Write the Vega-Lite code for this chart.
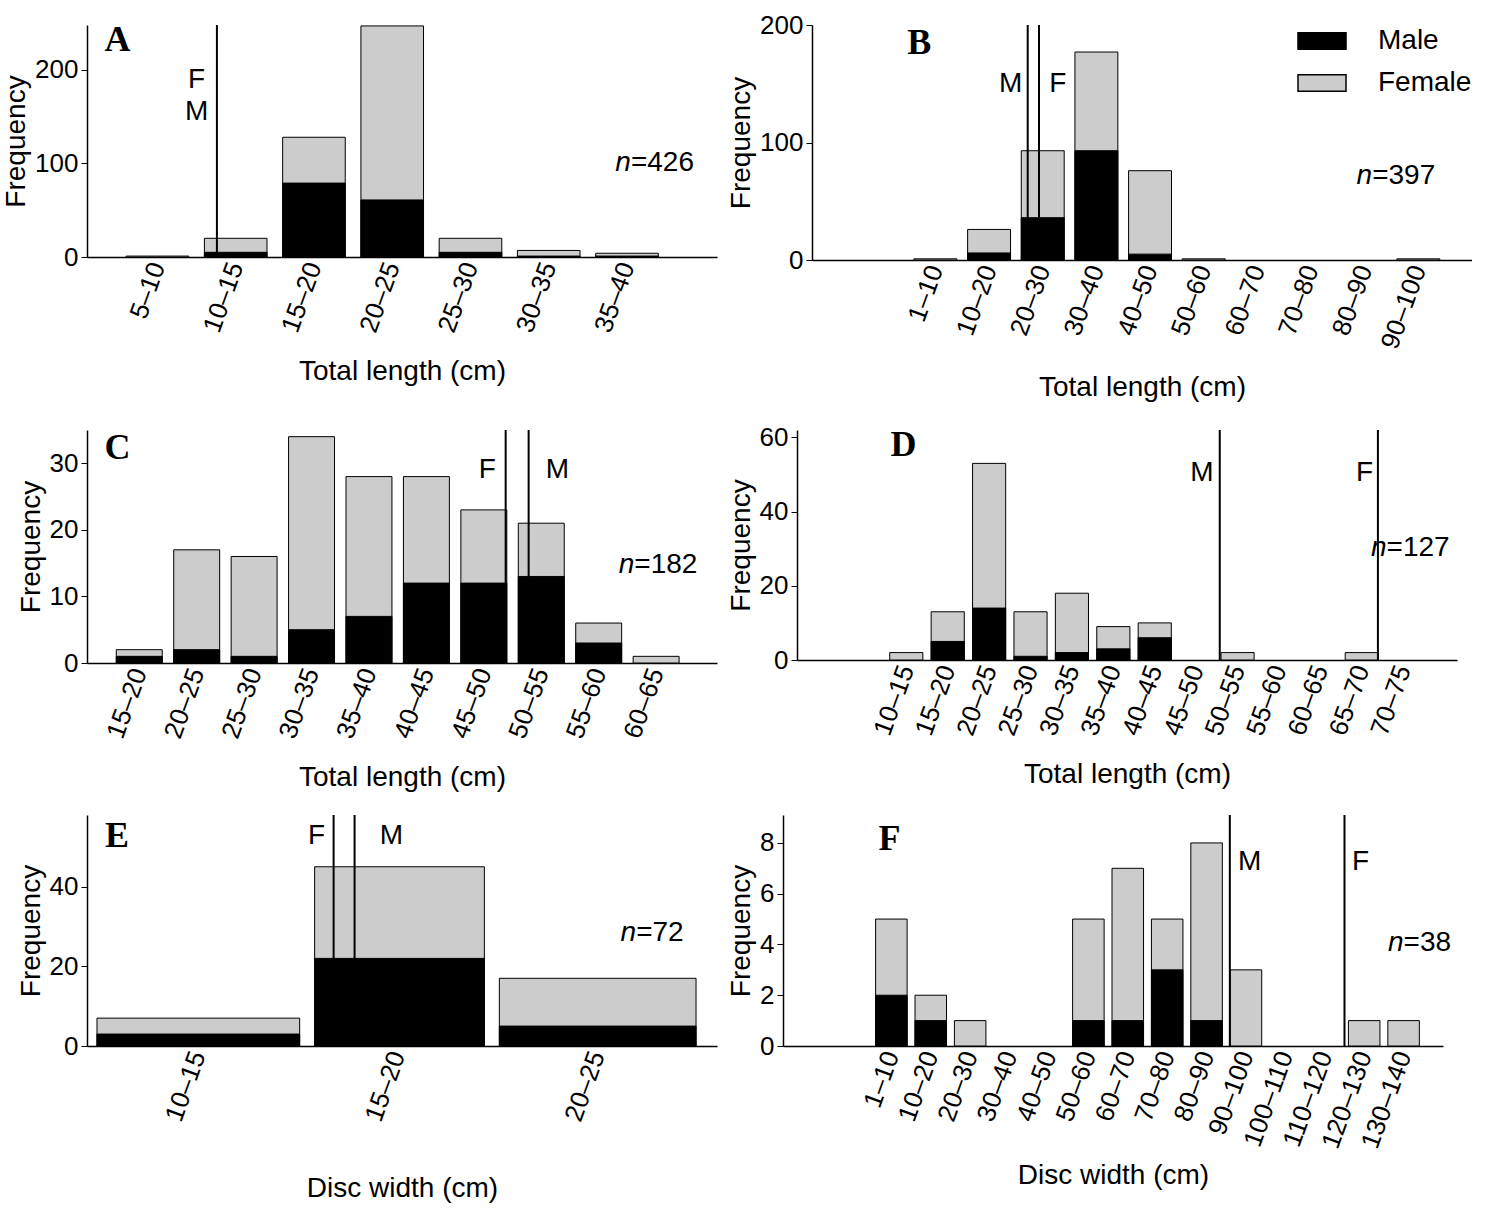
{
  "$schema": "https://vega.github.io/schema/vega-lite/v6.json",
  "padding": {"top": 12, "left": 2, "right": 0, "bottom": 0},
  "background": "white",
  "config": {
    "font": "Liberation Sans",
    "view": {"stroke": null},
    "axis": {"grid": false, "domainColor": "black", "domainWidth": 1.5, "tickColor": "black", "labelColor": "black", "titleColor": "black", "labelFontSize": 26, "titleFontSize": 28, "titleFontWeight": "normal", "labelFont": "Liberation Sans", "titleFont": "Liberation Sans", "labelFlush": false, "labelOverlap": false},
    "axisX": {"ticks": false, "labelAngle": -70, "labelAlign": "right", "labelBaseline": "middle", "labelPadding": 6, "titlePadding": 22},
    "axisY": {"tickSize": 6, "titlePadding": 4, "labelPadding": 3},
    "concat": {"spacing": 10}
  },
  "datasets": {
    "bars": [
      {"p": "A", "lo": 0.6, "hi": 1.4, "total": 1, "male": 0},
      {"p": "A", "lo": 1.6, "hi": 2.4, "total": 20, "male": 5},
      {"p": "A", "lo": 2.6, "hi": 3.4, "total": 128, "male": 79},
      {"p": "A", "lo": 3.6, "hi": 4.4, "total": 247, "male": 61},
      {"p": "A", "lo": 4.6, "hi": 5.4, "total": 20, "male": 5},
      {"p": "A", "lo": 5.6, "hi": 6.4, "total": 7, "male": 1},
      {"p": "A", "lo": 6.6, "hi": 7.4, "total": 4, "male": 1},
      {"p": "B", "lo": 0.6, "hi": 1.4, "total": 1, "male": 0},
      {"p": "B", "lo": 1.6, "hi": 2.4, "total": 26, "male": 6},
      {"p": "B", "lo": 2.6, "hi": 3.4, "total": 93, "male": 36},
      {"p": "B", "lo": 3.6, "hi": 4.4, "total": 177, "male": 93},
      {"p": "B", "lo": 4.6, "hi": 5.4, "total": 76, "male": 5},
      {"p": "B", "lo": 5.6, "hi": 6.4, "total": 1, "male": 0},
      {"p": "B", "lo": 9.6, "hi": 10.4, "total": 1, "male": 0},
      {"p": "C", "lo": 0.6, "hi": 1.4, "total": 2, "male": 1},
      {"p": "C", "lo": 1.6, "hi": 2.4, "total": 17, "male": 2},
      {"p": "C", "lo": 2.6, "hi": 3.4, "total": 16, "male": 1},
      {"p": "C", "lo": 3.6, "hi": 4.4, "total": 34, "male": 5},
      {"p": "C", "lo": 4.6, "hi": 5.4, "total": 28, "male": 7},
      {"p": "C", "lo": 5.6, "hi": 6.4, "total": 28, "male": 12},
      {"p": "C", "lo": 6.6, "hi": 7.4, "total": 23, "male": 12},
      {"p": "C", "lo": 7.6, "hi": 8.4, "total": 21, "male": 13},
      {"p": "C", "lo": 8.6, "hi": 9.4, "total": 6, "male": 3},
      {"p": "C", "lo": 9.6, "hi": 10.4, "total": 1, "male": 0},
      {"p": "D", "lo": 0.6, "hi": 1.4, "total": 2, "male": 0},
      {"p": "D", "lo": 1.6, "hi": 2.4, "total": 13, "male": 5},
      {"p": "D", "lo": 2.6, "hi": 3.4, "total": 53, "male": 14},
      {"p": "D", "lo": 3.6, "hi": 4.4, "total": 13, "male": 1},
      {"p": "D", "lo": 4.6, "hi": 5.4, "total": 18, "male": 2},
      {"p": "D", "lo": 5.6, "hi": 6.4, "total": 9, "male": 3},
      {"p": "D", "lo": 6.6, "hi": 7.4, "total": 10, "male": 6},
      {"p": "D", "lo": 8.6, "hi": 9.4, "total": 2, "male": 0},
      {"p": "D", "lo": 11.6, "hi": 12.4, "total": 2, "male": 0},
      {"p": "E", "lo": 0.495, "hi": 1.51, "total": 7, "male": 3},
      {"p": "E", "lo": 1.585, "hi": 2.435, "total": 45, "male": 22},
      {"p": "E", "lo": 2.51, "hi": 3.495, "total": 17, "male": 5},
      {"p": "F", "lo": 0.6, "hi": 1.4, "total": 5, "male": 2},
      {"p": "F", "lo": 1.6, "hi": 2.4, "total": 2, "male": 1},
      {"p": "F", "lo": 2.6, "hi": 3.4, "total": 1, "male": 0},
      {"p": "F", "lo": 5.6, "hi": 6.4, "total": 5, "male": 1},
      {"p": "F", "lo": 6.6, "hi": 7.4, "total": 7, "male": 1},
      {"p": "F", "lo": 7.6, "hi": 8.4, "total": 5, "male": 3},
      {"p": "F", "lo": 8.6, "hi": 9.4, "total": 8, "male": 1},
      {"p": "F", "lo": 9.6, "hi": 10.4, "total": 3, "male": 0},
      {"p": "F", "lo": 12.6, "hi": 13.4, "total": 1, "male": 0},
      {"p": "F", "lo": 13.6, "hi": 14.4, "total": 1, "male": 0}
    ],
    "lines": [
      {"p": "A", "x": 1.76},
      {"p": "B", "x": 2.72}, {"p": "B", "x": 2.93},
      {"p": "C", "x": 7.38}, {"p": "C", "x": 7.78},
      {"p": "D", "x": 8.57}, {"p": "D", "x": 12.39},
      {"p": "E", "x": 1.68}, {"p": "E", "x": 1.785},
      {"p": "F", "x": 9.59}, {"p": "F", "x": 12.5}
    ],
    "notes": [
      {"p": "A", "t": "F", "x": 1.5, "y": 189}, {"p": "A", "t": "M", "x": 1.5, "y": 155},
      {"p": "B", "t": "M", "x": 2.4, "y": 150}, {"p": "B", "t": "F", "x": 3.28, "y": 150},
      {"p": "C", "t": "F", "x": 7.06, "y": 29}, {"p": "C", "t": "M", "x": 8.28, "y": 29},
      {"p": "D", "t": "M", "x": 8.14, "y": 50.4}, {"p": "D", "t": "F", "x": 12.07, "y": 50.4},
      {"p": "E", "t": "F", "x": 1.595, "y": 52.8}, {"p": "E", "t": "M", "x": 1.97, "y": 52.8},
      {"p": "F", "t": "M", "x": 10.09, "y": 7.24}, {"p": "F", "t": "F", "x": 12.91, "y": 7.24}
    ],
    "tags": [
      {"p": "A", "letter": "A", "lx": 0.49, "ly": 232, "nx": 7.05, "ny": 100, "n": "=426"},
      {"p": "B", "letter": "B", "lx": 0.7, "ly": 185, "nx": 9.14, "ny": 71.5, "n": "=397"},
      {"p": "C", "letter": "C", "lx": 0.62, "ly": 32.3, "nx": 9.62, "ny": 14.7, "n": "=182"},
      {"p": "D", "letter": "D", "lx": 0.93, "ly": 58, "nx": 12.6, "ny": 30.2, "n": "=127"},
      {"p": "E", "letter": "E", "lx": 0.595, "ly": 52.8, "nx": 3.195, "ny": 28.4, "n": "=72"},
      {"p": "F", "letter": "F", "lx": 0.95, "ly": 8.15, "nx": 14.0, "ny": 4.05, "n": "=38"}
    ]
  },
  "resolve": {"scale": {"color": "independent"}, "legend": {"color": "independent"}},
  "spacing": 22,
  "vconcat": [
    {
      "resolve": {"scale": {"color": "independent"}, "legend": {"color": "independent"}},
      "hconcat": [
        {
          "width": 630, "height": 232,
          "layer": [
            {"data": {"name": "bars"}, "transform": [{"filter": "datum.p == 'A'"}],
             "mark": {"type": "bar", "stroke": "black", "strokeWidth": 1},
             "encoding": {
               "x": {"field": "lo", "type": "quantitative", "scale": {"domain": [0.1, 8.15], "nice": false, "zero": false},
                     "axis": {"title": "Total length (cm)", "values": [1, 2, 3, 4, 5, 6, 7], "labelExpr": "['5–10','10–15','15–20','20–25','25–30','30–35','35–40'][datum.value - 1]"}},
               "x2": {"field": "hi"},
               "y": {"field": "total", "type": "quantitative", "scale": {"domain": [0, 248], "nice": false}, "axis": {"title": "Frequency", "values": [0, 100, 200]}},
               "y2": {"datum": 0},
               "color": {"datum": "Female", "scale": {"domain": ["Male", "Female"], "range": ["black", "#cccccc"]}, "legend": null}
             }},
            {"data": {"name": "bars"}, "transform": [{"filter": "datum.p == 'A' && datum.male > 0"}],
             "mark": {"type": "bar", "stroke": "black", "strokeWidth": 1},
             "encoding": {"x": {"field": "lo", "type": "quantitative"}, "x2": {"field": "hi"}, "y": {"field": "male", "type": "quantitative"}, "y2": {"datum": 0},
               "color": {"datum": "Male", "scale": {"domain": ["Male", "Female"], "range": ["black", "#cccccc"]}, "legend": null}}},
            {"data": {"name": "lines"}, "transform": [{"filter": "datum.p == 'A'"}], "mark": {"type": "rule", "color": "black", "strokeWidth": 2},
             "encoding": {"x": {"field": "x", "type": "quantitative"}}},
            {"data": {"name": "notes"}, "transform": [{"filter": "datum.p == 'A'"}], "mark": {"type": "text", "fontSize": 28, "color": "black"},
             "encoding": {"x": {"field": "x", "type": "quantitative"}, "y": {"field": "y", "type": "quantitative"}, "text": {"field": "t"}}},
            {"data": {"name": "tags"}, "transform": [{"filter": "datum.p == 'A'"}], "mark": {"type": "text", "fontSize": 36, "font": "Liberation Serif", "fontWeight": "bold", "color": "black"},
             "encoding": {"x": {"field": "lx", "type": "quantitative"}, "y": {"field": "ly", "type": "quantitative"}, "text": {"field": "letter"}}},
            {"data": {"name": "tags"}, "transform": [{"filter": "datum.p == 'A'"}], "mark": {"type": "text", "fontSize": 28, "fontStyle": "italic", "align": "right", "color": "black"},
             "encoding": {"x": {"field": "nx", "type": "quantitative"}, "y": {"field": "ny", "type": "quantitative"}, "text": {"value": "n"}}},
            {"data": {"name": "tags"}, "transform": [{"filter": "datum.p == 'A'"}], "mark": {"type": "text", "fontSize": 28, "align": "left", "color": "black"},
             "encoding": {"x": {"field": "nx", "type": "quantitative"}, "y": {"field": "ny", "type": "quantitative"}, "text": {"field": "n"}}}
          ]
        },
        {
          "width": 660, "height": 235,
          "layer": [
            {"data": {"name": "bars"}, "transform": [{"filter": "datum.p == 'B'"}],
             "mark": {"type": "bar", "stroke": "black", "strokeWidth": 1},
             "encoding": {
               "x": {"field": "lo", "type": "quantitative", "scale": {"domain": [-1.3, 11], "nice": false, "zero": false},
                     "axis": {"title": "Total length (cm)", "values": [1, 2, 3, 4, 5, 6, 7, 8, 9, 10], "labelExpr": "['1–10','10–20','20–30','30–40','40–50','50–60','60–70','70–80','80–90','90–100'][datum.value - 1]"}},
               "x2": {"field": "hi"},
               "y": {"field": "total", "type": "quantitative", "scale": {"domain": [0, 200], "nice": false}, "axis": {"title": "Frequency", "values": [0, 100, 200]}},
               "y2": {"datum": 0},
               "color": {"datum": "Female", "scale": {"domain": ["Male", "Female"], "range": ["black", "#cccccc"]},
                         "legend": {"title": null, "orient": "top-right", "offset": 0, "padding": 0, "labelFontSize": 28, "labelColor": "black", "symbolType": "M-1.6,-0.55H1.6V0.55H-1.6Z", "symbolSize": 900, "symbolStrokeColor": "black", "symbolStrokeWidth": 1.5, "symbolOpacity": 1, "rowPadding": 12, "labelOffset": 40}}
             }},
            {"data": {"name": "bars"}, "transform": [{"filter": "datum.p == 'B' && datum.male > 0"}],
             "mark": {"type": "bar", "stroke": "black", "strokeWidth": 1},
             "encoding": {"x": {"field": "lo", "type": "quantitative"}, "x2": {"field": "hi"}, "y": {"field": "male", "type": "quantitative"}, "y2": {"datum": 0},
               "color": {"datum": "Male", "scale": {"domain": ["Male", "Female"], "range": ["black", "#cccccc"]}}}},
            {"data": {"name": "lines"}, "transform": [{"filter": "datum.p == 'B'"}], "mark": {"type": "rule", "color": "black", "strokeWidth": 2},
             "encoding": {"x": {"field": "x", "type": "quantitative"}}},
            {"data": {"name": "notes"}, "transform": [{"filter": "datum.p == 'B'"}], "mark": {"type": "text", "fontSize": 28, "color": "black"},
             "encoding": {"x": {"field": "x", "type": "quantitative"}, "y": {"field": "y", "type": "quantitative"}, "text": {"field": "t"}}},
            {"data": {"name": "tags"}, "transform": [{"filter": "datum.p == 'B'"}], "mark": {"type": "text", "fontSize": 36, "font": "Liberation Serif", "fontWeight": "bold", "color": "black"},
             "encoding": {"x": {"field": "lx", "type": "quantitative"}, "y": {"field": "ly", "type": "quantitative"}, "text": {"field": "letter"}}},
            {"data": {"name": "tags"}, "transform": [{"filter": "datum.p == 'B'"}], "mark": {"type": "text", "fontSize": 28, "fontStyle": "italic", "align": "right", "color": "black"},
             "encoding": {"x": {"field": "nx", "type": "quantitative"}, "y": {"field": "ny", "type": "quantitative"}, "text": {"value": "n"}}},
            {"data": {"name": "tags"}, "transform": [{"filter": "datum.p == 'B'"}], "mark": {"type": "text", "fontSize": 28, "align": "left", "color": "black"},
             "encoding": {"x": {"field": "nx", "type": "quantitative"}, "y": {"field": "ny", "type": "quantitative"}, "text": {"field": "n"}}}
          ]
        }
      ]
    },
    {
      "resolve": {"scale": {"color": "independent"}, "legend": {"color": "independent"}},
      "hconcat": [
        {
          "width": 630, "height": 233,
          "layer": [
            {"data": {"name": "bars"}, "transform": [{"filter": "datum.p == 'C'"}],
             "mark": {"type": "bar", "stroke": "black", "strokeWidth": 1},
             "encoding": {
               "x": {"field": "lo", "type": "quantitative", "scale": {"domain": [0.09, 11.06], "nice": false, "zero": false},
                     "axis": {"title": "Total length (cm)", "values": [1, 2, 3, 4, 5, 6, 7, 8, 9, 10], "labelExpr": "['15–20','20–25','25–30','30–35','35–40','40–45','45–50','50–55','55–60','60–65'][datum.value - 1]"}},
               "x2": {"field": "hi"},
               "y": {"field": "total", "type": "quantitative", "scale": {"domain": [0, 35], "nice": false}, "axis": {"title": "Frequency", "values": [0, 10, 20, 30]}},
               "y2": {"datum": 0},
               "color": {"datum": "Female", "scale": {"domain": ["Male", "Female"], "range": ["black", "#cccccc"]}, "legend": null}
             }},
            {"data": {"name": "bars"}, "transform": [{"filter": "datum.p == 'C' && datum.male > 0"}],
             "mark": {"type": "bar", "stroke": "black", "strokeWidth": 1},
             "encoding": {"x": {"field": "lo", "type": "quantitative"}, "x2": {"field": "hi"}, "y": {"field": "male", "type": "quantitative"}, "y2": {"datum": 0},
               "color": {"datum": "Male", "scale": {"domain": ["Male", "Female"], "range": ["black", "#cccccc"]}, "legend": null}}},
            {"data": {"name": "lines"}, "transform": [{"filter": "datum.p == 'C'"}], "mark": {"type": "rule", "color": "black", "strokeWidth": 2},
             "encoding": {"x": {"field": "x", "type": "quantitative"}}},
            {"data": {"name": "notes"}, "transform": [{"filter": "datum.p == 'C'"}], "mark": {"type": "text", "fontSize": 28, "color": "black"},
             "encoding": {"x": {"field": "x", "type": "quantitative"}, "y": {"field": "y", "type": "quantitative"}, "text": {"field": "t"}}},
            {"data": {"name": "tags"}, "transform": [{"filter": "datum.p == 'C'"}], "mark": {"type": "text", "fontSize": 36, "font": "Liberation Serif", "fontWeight": "bold", "color": "black"},
             "encoding": {"x": {"field": "lx", "type": "quantitative"}, "y": {"field": "ly", "type": "quantitative"}, "text": {"field": "letter"}}},
            {"data": {"name": "tags"}, "transform": [{"filter": "datum.p == 'C'"}], "mark": {"type": "text", "fontSize": 28, "fontStyle": "italic", "align": "right", "color": "black"},
             "encoding": {"x": {"field": "nx", "type": "quantitative"}, "y": {"field": "ny", "type": "quantitative"}, "text": {"value": "n"}}},
            {"data": {"name": "tags"}, "transform": [{"filter": "datum.p == 'C'"}], "mark": {"type": "text", "fontSize": 28, "align": "left", "color": "black"},
             "encoding": {"x": {"field": "nx", "type": "quantitative"}, "y": {"field": "ny", "type": "quantitative"}, "text": {"field": "n"}}}
          ]
        },
        {
          "width": 660, "height": 230,
          "layer": [
            {"data": {"name": "bars"}, "transform": [{"filter": "datum.p == 'D'"}],
             "mark": {"type": "bar", "stroke": "black", "strokeWidth": 1},
             "encoding": {
               "x": {"field": "lo", "type": "quantitative", "scale": {"domain": [-1.64, 14.3], "nice": false, "zero": false},
                     "axis": {"title": "Total length (cm)", "values": [1, 2, 3, 4, 5, 6, 7, 8, 9, 10, 11, 12, 13], "labelExpr": "['10–15','15–20','20–25','25–30','30–35','35–40','40–45','45–50','50–55','55–60','60–65','65–70','70–75'][datum.value - 1]"}},
               "x2": {"field": "hi"},
               "y": {"field": "total", "type": "quantitative", "scale": {"domain": [0, 62], "nice": false}, "axis": {"title": "Frequency", "values": [0, 20, 40, 60]}},
               "y2": {"datum": 0},
               "color": {"datum": "Female", "scale": {"domain": ["Male", "Female"], "range": ["black", "#cccccc"]}, "legend": null}
             }},
            {"data": {"name": "bars"}, "transform": [{"filter": "datum.p == 'D' && datum.male > 0"}],
             "mark": {"type": "bar", "stroke": "black", "strokeWidth": 1},
             "encoding": {"x": {"field": "lo", "type": "quantitative"}, "x2": {"field": "hi"}, "y": {"field": "male", "type": "quantitative"}, "y2": {"datum": 0},
               "color": {"datum": "Male", "scale": {"domain": ["Male", "Female"], "range": ["black", "#cccccc"]}, "legend": null}}},
            {"data": {"name": "lines"}, "transform": [{"filter": "datum.p == 'D'"}], "mark": {"type": "rule", "color": "black", "strokeWidth": 2},
             "encoding": {"x": {"field": "x", "type": "quantitative"}}},
            {"data": {"name": "notes"}, "transform": [{"filter": "datum.p == 'D'"}], "mark": {"type": "text", "fontSize": 28, "color": "black"},
             "encoding": {"x": {"field": "x", "type": "quantitative"}, "y": {"field": "y", "type": "quantitative"}, "text": {"field": "t"}}},
            {"data": {"name": "tags"}, "transform": [{"filter": "datum.p == 'D'"}], "mark": {"type": "text", "fontSize": 36, "font": "Liberation Serif", "fontWeight": "bold", "color": "black"},
             "encoding": {"x": {"field": "lx", "type": "quantitative"}, "y": {"field": "ly", "type": "quantitative"}, "text": {"field": "letter"}}},
            {"data": {"name": "tags"}, "transform": [{"filter": "datum.p == 'D'"}], "mark": {"type": "text", "fontSize": 28, "fontStyle": "italic", "align": "right", "color": "black"},
             "encoding": {"x": {"field": "nx", "type": "quantitative"}, "y": {"field": "ny", "type": "quantitative"}, "text": {"value": "n"}}},
            {"data": {"name": "tags"}, "transform": [{"filter": "datum.p == 'D'"}], "mark": {"type": "text", "fontSize": 28, "align": "left", "color": "black"},
             "encoding": {"x": {"field": "nx", "type": "quantitative"}, "y": {"field": "ny", "type": "quantitative"}, "text": {"field": "n"}}}
          ]
        }
      ]
    },
    {
      "resolve": {"scale": {"color": "independent"}, "legend": {"color": "independent"}},
      "hconcat": [
        {
          "width": 630, "height": 231,
          "layer": [
            {"data": {"name": "bars"}, "transform": [{"filter": "datum.p == 'E'"}],
             "mark": {"type": "bar", "stroke": "black", "strokeWidth": 1},
             "encoding": {
               "x": {"field": "lo", "type": "quantitative", "scale": {"domain": [0.445, 3.6], "nice": false, "zero": false},
                     "axis": {"title": "Disc width (cm)", "titlePadding": 50, "values": [1, 2, 3], "labelExpr": "['10–15','15–20','20–25'][datum.value - 1]"}},
               "x2": {"field": "hi"},
               "y": {"field": "total", "type": "quantitative", "scale": {"domain": [0, 58], "nice": false}, "axis": {"title": "Frequency", "values": [0, 20, 40]}},
               "y2": {"datum": 0},
               "color": {"datum": "Female", "scale": {"domain": ["Male", "Female"], "range": ["black", "#cccccc"]}, "legend": null}
             }},
            {"data": {"name": "bars"}, "transform": [{"filter": "datum.p == 'E' && datum.male > 0"}],
             "mark": {"type": "bar", "stroke": "black", "strokeWidth": 1},
             "encoding": {"x": {"field": "lo", "type": "quantitative"}, "x2": {"field": "hi"}, "y": {"field": "male", "type": "quantitative"}, "y2": {"datum": 0},
               "color": {"datum": "Male", "scale": {"domain": ["Male", "Female"], "range": ["black", "#cccccc"]}, "legend": null}}},
            {"data": {"name": "lines"}, "transform": [{"filter": "datum.p == 'E'"}], "mark": {"type": "rule", "color": "black", "strokeWidth": 2},
             "encoding": {"x": {"field": "x", "type": "quantitative"}}},
            {"data": {"name": "notes"}, "transform": [{"filter": "datum.p == 'E'"}], "mark": {"type": "text", "fontSize": 28, "color": "black"},
             "encoding": {"x": {"field": "x", "type": "quantitative"}, "y": {"field": "y", "type": "quantitative"}, "text": {"field": "t"}}},
            {"data": {"name": "tags"}, "transform": [{"filter": "datum.p == 'E'"}], "mark": {"type": "text", "fontSize": 36, "font": "Liberation Serif", "fontWeight": "bold", "color": "black"},
             "encoding": {"x": {"field": "lx", "type": "quantitative"}, "y": {"field": "ly", "type": "quantitative"}, "text": {"field": "letter"}}},
            {"data": {"name": "tags"}, "transform": [{"filter": "datum.p == 'E'"}], "mark": {"type": "text", "fontSize": 28, "fontStyle": "italic", "align": "right", "color": "black"},
             "encoding": {"x": {"field": "nx", "type": "quantitative"}, "y": {"field": "ny", "type": "quantitative"}, "text": {"value": "n"}}},
            {"data": {"name": "tags"}, "transform": [{"filter": "datum.p == 'E'"}], "mark": {"type": "text", "fontSize": 28, "align": "left", "color": "black"},
             "encoding": {"x": {"field": "nx", "type": "quantitative"}, "y": {"field": "ny", "type": "quantitative"}, "text": {"field": "n"}}}
          ]
        },
        {
          "width": 660, "height": 231,
          "layer": [
            {"data": {"name": "bars"}, "transform": [{"filter": "datum.p == 'F'"}],
             "mark": {"type": "bar", "stroke": "black", "strokeWidth": 1},
             "encoding": {
               "x": {"field": "lo", "type": "quantitative", "scale": {"domain": [-1.75, 15.0], "nice": false, "zero": false},
                     "axis": {"title": "Disc width (cm)", "titlePadding": 10, "values": [1, 2, 3, 4, 5, 6, 7, 8, 9, 10, 11, 12, 13, 14], "labelExpr": "['1–10','10–20','20–30','30–40','40–50','50–60','60–70','70–80','80–90','90–100','100–110','110–120','120–130','130–140'][datum.value - 1]"}},
               "x2": {"field": "hi"},
               "y": {"field": "total", "type": "quantitative", "scale": {"domain": [0, 9.1], "nice": false}, "axis": {"title": "Frequency", "values": [0, 2, 4, 6, 8]}},
               "y2": {"datum": 0},
               "color": {"datum": "Female", "scale": {"domain": ["Male", "Female"], "range": ["black", "#cccccc"]}, "legend": null}
             }},
            {"data": {"name": "bars"}, "transform": [{"filter": "datum.p == 'F' && datum.male > 0"}],
             "mark": {"type": "bar", "stroke": "black", "strokeWidth": 1},
             "encoding": {"x": {"field": "lo", "type": "quantitative"}, "x2": {"field": "hi"}, "y": {"field": "male", "type": "quantitative"}, "y2": {"datum": 0},
               "color": {"datum": "Male", "scale": {"domain": ["Male", "Female"], "range": ["black", "#cccccc"]}, "legend": null}}},
            {"data": {"name": "lines"}, "transform": [{"filter": "datum.p == 'F'"}], "mark": {"type": "rule", "color": "black", "strokeWidth": 2},
             "encoding": {"x": {"field": "x", "type": "quantitative"}}},
            {"data": {"name": "notes"}, "transform": [{"filter": "datum.p == 'F'"}], "mark": {"type": "text", "fontSize": 28, "color": "black"},
             "encoding": {"x": {"field": "x", "type": "quantitative"}, "y": {"field": "y", "type": "quantitative"}, "text": {"field": "t"}}},
            {"data": {"name": "tags"}, "transform": [{"filter": "datum.p == 'F'"}], "mark": {"type": "text", "fontSize": 36, "font": "Liberation Serif", "fontWeight": "bold", "color": "black"},
             "encoding": {"x": {"field": "lx", "type": "quantitative"}, "y": {"field": "ly", "type": "quantitative"}, "text": {"field": "letter"}}},
            {"data": {"name": "tags"}, "transform": [{"filter": "datum.p == 'F'"}], "mark": {"type": "text", "fontSize": 28, "fontStyle": "italic", "align": "right", "color": "black"},
             "encoding": {"x": {"field": "nx", "type": "quantitative"}, "y": {"field": "ny", "type": "quantitative"}, "text": {"value": "n"}}},
            {"data": {"name": "tags"}, "transform": [{"filter": "datum.p == 'F'"}], "mark": {"type": "text", "fontSize": 28, "align": "left", "color": "black"},
             "encoding": {"x": {"field": "nx", "type": "quantitative"}, "y": {"field": "ny", "type": "quantitative"}, "text": {"field": "n"}}}
          ]
        }
      ]
    }
  ]
}
